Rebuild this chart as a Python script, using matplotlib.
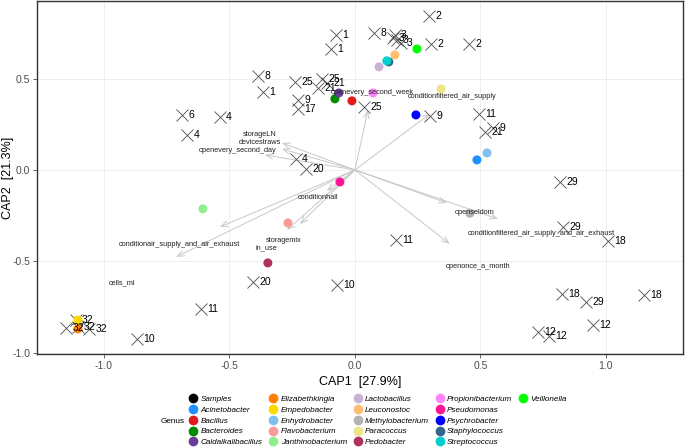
import matplotlib.pyplot as plt
from matplotlib.lines import Line2D

plt.rcParams["font.family"] = ["Liberation Sans", "DejaVu Sans"]
plt.rcParams["axes.unicode_minus"] = False

# === Dades (llegides del gràfic) ===
sample_x = [0.295, 0.303, 0.454, 0.076, 0.159, 0.151, 0.167, 0.183, -0.076, -0.096,
            -0.386, -0.367, -0.689, -0.538, -0.669, -0.239, -0.131, -0.112, -0.147, -0.227,
            -0.227, 0.036, -0.235, -0.195, 0.299, 0.494, 0.518, 0.550, 0.817, 0.829,
            1.008, 0.163, -0.406, -0.072, -0.614, -0.869, -1.151, -1.104, -1.060, -1.112,
            0.825, 0.920, 1.151, 0.948, 0.729, 0.773]
sample_y = [0.843, 0.690, 0.690, 0.750, 0.739, 0.722, 0.712, 0.695, 0.739, 0.662,
            0.515, 0.427, 0.301, 0.290, 0.192, 0.482, 0.498, 0.476, 0.449, 0.383,
            0.334, 0.345, 0.060, 0.005, 0.296, 0.307, 0.208, 0.230, -0.066, -0.313,
            -0.389, -0.383, -0.613, -0.629, -0.761, -0.925, -0.865, -0.859, -0.870, -0.821,
            -0.679, -0.723, -0.684, -0.848, -0.887, -0.909]
sample_lab = ["2", "2", "2", "8", "3", "3", "3", "3", "1", "1",
              "8", "1", "6", "4", "4", "25", "25", "21", "21", "9",
              "17", "25", "4", "20", "9", "11", "21", "9", "29", "29",
              "18", "11", "20", "10", "11", "10", "32", "32", "32", "32",
              "18", "29", "18", "12", "12", "12"]

genus = ["Acinetobacter", "Bacillus", "Bacteroides", "Caldalkalibacillus", "Elizabethkingia",
         "Empedobacter", "Enhydrobacter", "Flavobacterium", "Janthinobacterium", "Lactobacillus",
         "Leuconostoc", "Methylobacterium", "Paracoccus", "Pedobacter", "Propionibacterium",
         "Pseudomonas", "Psychrobacter", "Staphylococcus", "Streptococcus", "Veillonella"]
genus_x = [0.486, -0.012, -0.080, -0.064, -1.104, -1.104, 0.526, -0.267, -0.606, 0.096,
           0.159, 0.458, 0.343, -0.347, 0.072, -0.060, 0.243, 0.135, 0.127, 0.247]
genus_y = [0.055, 0.378, 0.389, 0.421, -0.870, -0.821, 0.093, -0.290, -0.213, 0.564,
           0.629, -0.237, 0.443, -0.509, 0.421, -0.066, 0.301, 0.591, 0.597, 0.662]
genus_col = ["#1E90FF", "#E31A1C", "#008B00", "#6A3D9A", "#FF7F00",
             "#FFD700", "#7EC0EE", "#FB9A99", "#90EE90", "#CAB2D6",
             "#FDBF6F", "#B3B3B3", "#EEE685", "#B03060", "#FF83FA",
             "#FF1493", "#0000FF", "#36648B", "#00CED1", "#00FF00"]

env_lab = ["openevery_second_week", "conditionfiltered_air_supply", "storageLN", "devicestraws",
           "openevery_second_day", "conditionair_supply_and_air_exhaust", "cells_ml",
           "conditionhall", "storagemix", "in_use", "openseldom",
           "conditionfiltered_air_supply_and_air_exhaust", "openonce_a_month"]
env_x = [0.052, 0.299, -0.291, -0.291, -0.359, -0.538, -0.713, -0.112, -0.219, -0.271, 0.367, 0.570, 0.378]
env_y = [0.328, 0.307, 0.148, 0.115, 0.082, -0.312, -0.476, -0.115, -0.296, -0.328, -0.181, -0.268, -0.405]

# === Gràfic ===
fig = plt.figure(figsize=(6.85, 4.48), dpi=100)
ax = fig.add_axes([0.054, 0.21, 0.943, 0.788])

for x, y in zip(env_x, env_y):
    ax.annotate("", xy=(x, y), xytext=(0, 0),
                arrowprops=dict(arrowstyle="->,head_length=0.5,head_width=0.2",
                                color="#C8C8C8", lw=0.7, shrinkA=0, shrinkB=0))

ax.scatter(sample_x, sample_y, marker="x", s=75, color="#4D4D4D", linewidths=0.6, zorder=3)
ax.scatter(genus_x, genus_y, s=42, c=genus_col, zorder=4, linewidths=0)

for x, y, t in zip(sample_x, sample_y, sample_lab):
    ax.annotate(t, (x, y), xytext=(4.5, 0), textcoords="offset points",
                fontsize=7.5, va="center", ha="left", zorder=5)

for x, y, t in zip(env_x, env_y, env_lab):
    ax.text(x * 1.3, y * 1.3, t, fontsize=5.3, color="#222222", ha="center", va="center", zorder=5)

ax.set_xlim(-1.267, 1.307)
ax.set_ylim(-1.007, 0.925)
ax.set_xticks([-1.0, -0.5, 0.0, 0.5, 1.0])
ax.set_yticks([-1.0, -0.5, 0.0, 0.5])
ax.grid(True, color="#EBEBEB", lw=0.6)
ax.set_axisbelow(True)
ax.tick_params(labelsize=7.5, colors="#4D4D4D", length=3, width=0.6, pad=2)
for s in ax.spines.values():
    s.set_color("#333333")
    s.set_linewidth(1.0)
ax.set_xlabel("CAP1  [27.9%]", fontsize=9, labelpad=4)
ax.set_ylabel("CAP2  [21.3%]", fontsize=9)
ax.yaxis.set_label_coords(-0.036, 0.5)

# Llegenda (5 files, omplert per columnes)
handles = [Line2D([], [], ls="", marker="o", color="black", markersize=6)]
labels = ["Samples"]
for g, c in zip(genus, genus_col):
    handles.append(Line2D([], [], ls="", marker="o", color=c, markersize=6))
    labels.append(g)
for _ in range(4):
    handles.append(Line2D([], [], ls="", marker=None, alpha=0))
    labels.append("")
leg = fig.legend(handles, labels, ncol=5, loc="upper left", bbox_to_anchor=(0.275, 0.118),
                 frameon=False, prop=dict(size=5.9, style="italic"),
                 handletextpad=0.3, columnspacing=0.7, labelspacing=0.38,
                 borderaxespad=0, borderpad=0, handlelength=1.2)
fig.text(0.270, 0.060, "Genus", fontsize=5.9, ha="right", va="center")

fig.savefig("out.png", dpi=100)
